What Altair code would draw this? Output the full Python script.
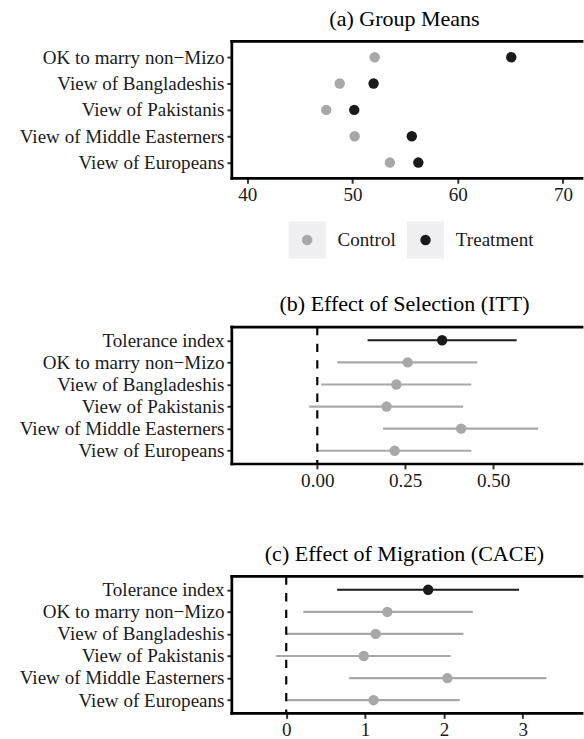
import altair as alt
import pandas as pd

# ---------------- data ----------------
means_outcomes = ["OK to marry non\u2212Mizo", "View of Bangladeshis", "View of Pakistanis",
                  "View of Middle Easterners", "View of Europeans"]
control_means = [52.11, 48.79, 47.51, 50.21, 53.56]
treatment_means = [65.09, 52.01, 50.17, 55.64, 56.26]

effect_outcomes = ["Tolerance index", "OK to marry non\u2212Mizo", "View of Bangladeshis",
                   "View of Pakistanis", "View of Middle Easterners", "View of Europeans"]
effect_kind = ["index", "item", "item", "item", "item", "item"]

itt_est = [0.355, 0.257, 0.225, 0.197, 0.409, 0.220]
itt_lo = [0.143, 0.057, 0.011, -0.023, 0.187, 0.000]
itt_hi = [0.567, 0.455, 0.438, 0.415, 0.628, 0.438]

cace_est = [1.80, 1.283, 1.135, 0.983, 2.044, 1.108]
cace_lo = [0.646, 0.217, 0.000, -0.129, 0.798, 0.000]
cace_hi = [2.953, 2.367, 2.247, 2.086, 3.300, 2.201]

legend_groups = ["Control", "Treatment"]

titles = ["(a) Group Means", "(b) Effect of Selection (ITT)", "(c) Effect of Migration (CACE)"]
ticks_a = [40, 50, 60, 70]
ticks_b = [0.0, 0.25, 0.5]
ticks_c = [0, 1, 2, 3]

# ---------------- style ----------------
FONT = "Times New Roman, Liberation Serif, serif"
GRAY = "#a8a8a8"
BLACK = "#1a1a1a"
W = 353
H = 140
BORDER = 2.8
LABEL_SIZE = 19.5

def title_params(text):
    return alt.TitleParams(text=text, anchor="middle", font=FONT, fontSize=22.5,
                           fontWeight="normal", color="black", offset=9.5)

def borders():
    b = alt.Chart(pd.DataFrame({"b": [0]}))
    top = b.mark_rule(color="black", strokeWidth=BORDER, strokeCap="square").encode(
        x=alt.value(0), x2=alt.value(W + 5), y=alt.value(0))
    left = b.mark_rule(color="black", strokeWidth=BORDER, strokeCap="square").encode(
        x=alt.value(0), y=alt.value(0), y2=alt.value(H))
    bottom = b.mark_rule(color="black", strokeWidth=BORDER, strokeCap="square").encode(
        x=alt.value(0), x2=alt.value(W + 5), y=alt.value(H))
    return [top, left, bottom]

yaxis = alt.Axis(title=None, labelPadding=3, tickSize=5, domain=False, labelLimit=400)

# ---------------- panel a ----------------
df_a = pd.DataFrame({
    "outcome": means_outcomes * 2,
    "group": ["Control"] * len(means_outcomes) + ["Treatment"] * len(means_outcomes),
    "value": control_means + treatment_means,
})
xs_a = alt.Scale(domain=[38.54, 71.35], nice=False, zero=False)
pa = alt.Chart(df_a).mark_circle(size=113, opacity=1).encode(
    x=alt.X("value:Q", scale=xs_a, title=None,
            axis=alt.Axis(values=ticks_a, format="d", tickSize=5, labelPadding=3, domain=False)),
    y=alt.Y("outcome:N", scale=alt.Scale(type="point", domain=means_outcomes, padding=0.6), axis=yaxis),
    color=alt.Color("group:N", scale=alt.Scale(domain=legend_groups, range=[GRAY, BLACK]), legend=None),
)
chart_a = alt.layer(pa, *borders()).properties(width=W, height=H, title=title_params(titles[0]))

# ---------------- legend ----------------
df_leg = pd.DataFrame({"group": legend_groups})
lx = alt.X("group:N", scale=alt.Scale(type="point", domain=legend_groups, range=[77, 198], padding=0), axis=None)
LEG_Y = 36
leg_box = alt.Chart(df_leg).mark_square(size=1444, color="#f0f0f2", opacity=1).encode(x=lx, y=alt.value(LEG_Y))
leg_dot = alt.Chart(df_leg).mark_circle(size=113, opacity=1).encode(
    x=lx, y=alt.value(LEG_Y),
    color=alt.Color("group:N", scale=alt.Scale(domain=legend_groups, range=[GRAY, BLACK]), legend=None))
leg_txt = alt.Chart(df_leg).mark_text(align="left", baseline="middle", dx=31, font=FONT, fontSize=LABEL_SIZE,
                                      color=BLACK).encode(x=lx, y=alt.value(LEG_Y), text="group:N")
legend = alt.layer(leg_box, leg_dot, leg_txt).properties(width=W, height=90.5)

# ---------------- effect panels ----------------
def effect_panel(est, lo, hi, domain, ticks, fmt, title):
    df = pd.DataFrame({"outcome": effect_outcomes, "kind": effect_kind,
                       "est": est, "lo": lo, "hi": hi})
    xs = alt.Scale(domain=domain, nice=False, zero=False)
    ys = alt.Y("outcome:N", scale=alt.Scale(type="point", domain=effect_outcomes, padding=0.6), axis=yaxis)
    col = alt.Color("kind:N", scale=alt.Scale(domain=["index", "item"], range=[BLACK, GRAY]), legend=None)
    xaxis = alt.Axis(values=ticks, format=fmt, tickSize=5, labelPadding=3, domain=False)
    base = alt.Chart(df)
    ci = base.mark_rule(strokeWidth=2.2).encode(
        x=alt.X("lo:Q", scale=xs, title=None, axis=xaxis), x2="hi:Q", y=ys, color=col)
    zero = alt.Chart(pd.DataFrame({"zero": [0.0]})).mark_rule(
        color="black", strokeWidth=2.2, strokeDash=[8.5, 8.5]).encode(
        x=alt.X("zero:Q", scale=xs, title=None, axis=xaxis))
    pts = base.mark_circle(size=113, opacity=1).encode(
        x=alt.X("est:Q", scale=xs, title=None, axis=xaxis), y=ys, color=col)
    return alt.layer(ci, zero, pts, *borders()).properties(width=W, height=H, title=title_params(title))

chart_b = effect_panel(itt_est, itt_lo, itt_hi, [-0.243, 0.739], ticks_b, ".2f", titles[1])
chart_c = effect_panel(cace_est, cace_lo, cace_hi, [-0.69, 3.69], ticks_c, "d", titles[2])

spacer = alt.Chart(pd.DataFrame({"s": [0]})).mark_rule(opacity=0).encode(
    x=alt.value(0), y=alt.value(0), y2=alt.value(1)).properties(width=W, height=54)

chart = alt.vconcat(chart_a, legend, chart_b, spacer, chart_c, spacing=0).resolve_scale(
    color="independent"
).properties(
    padding={"left": 19, "top": 0, "right": 0, "bottom": 0},
    background="white",
).configure_view(stroke=None).configure_axis(
    labelFont=FONT, labelFontSize=LABEL_SIZE, labelColor=BLACK, tickColor="#333333", tickWidth=2,
    grid=False,
)

chart.save("out.html", embed_options={"renderer": "svg", "actions": False})
